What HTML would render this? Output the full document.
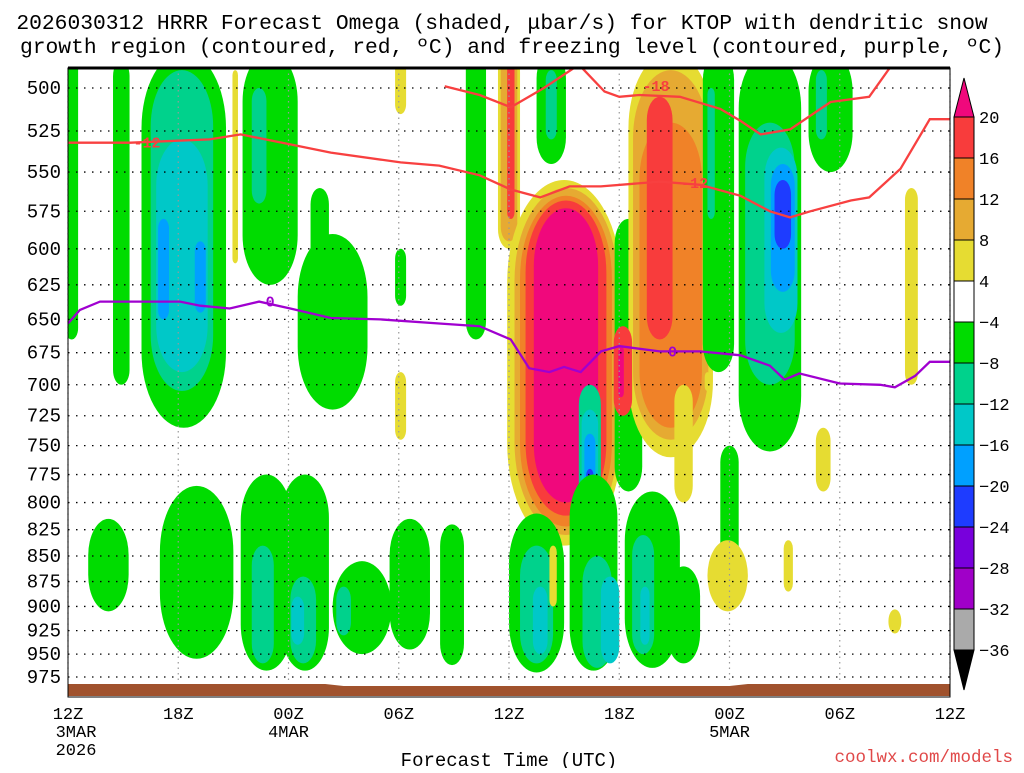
<!DOCTYPE html>
<html><head><meta charset="utf-8"><style>
body{margin:0;background:#fff;width:1024px;height:768px;overflow:hidden}
svg text{font-family:"Liberation Mono",monospace}
</style></head><body>
<svg id="chart" width="1024" height="768" xmlns="http://www.w3.org/2000/svg">
<text x="502" y="29" font-size="21.3" text-anchor="middle">2026030312 HRRR Forecast Omega (shaded, μbar/s) for KTOP with dendritic snow</text>
<text x="512" y="53" font-size="21.3" text-anchor="middle">growth region (contoured, red, ºC) and freezing level (contoured, purple, ºC)</text>
<g id="shading"></g>
<g id="grid"></g>
<g id="contours"></g>
<g id="axes"></g>
<g id="cbar"></g>
<text x="509" y="766" font-size="19" text-anchor="middle">Forecast Time (UTC)</text>
<text x="1013" y="762" font-size="17.5" fill="#e04848" text-anchor="end">coolwx.com/models</text>
</svg>
<script>
const pLevels=[500,525,550,575,600,625,650,675,700,725,750,775,800,825,850,875,900,925,950,975];
const xTicks=[0,6,12,18,24,30,36,42,48];
const xTickLabels=["12Z","18Z","00Z","06Z","12Z","18Z","00Z","06Z","12Z"];
const xDateLabels={0:["3MAR","2026"],12:["4MAR"],36:["5MAR"]};
const cbLevels=[20,16,12,8,4,-4,-8,-12,-16,-20,-24,-28,-32,-36];
const cbColors=["#f83c3c","#f08228","#e6aa32","#e6dc32","#ffffff","#00dc00","#00d28c","#00c8c8","#00a0ff","#1e3cff","#7800dc","#a000c8","#aaaaaa"];
// blobs: [t center (h), half width (h), p top, p bottom, omega]
const blobs=[
[0.2,0.35,480,665,-6],[2.9,0.45,485,700,-6],
[6.3,2.3,480,735,-6],[6.2,1.7,490,705,-10],[6.2,1.4,530,690,-14],[5.2,0.3,580,650,-18],[7.2,0.3,595,645,-18],
[9.1,0.15,490,610,6],
[11,1.5,480,625,-6],[10.4,0.4,500,570,-10],
[14.4,1.9,590,720,-6],[13.7,0.5,560,620,-6],[18.1,0.3,600,640,-6],[22.2,0.55,480,665,-6],
[18.1,0.3,480,515,6],[18.1,0.3,690,745,6],
[24,0.6,480,600,6],[24,0.45,480,595,10],
[27.0,3.1,555,840,6],[27.1,2.8,560,830,10],[27.1,2.5,565,822,14],[27.1,2.2,568,812,18],[27.1,1.75,573,800,22],
[24.1,0.2,480,580,18],
[26.3,0.8,480,545,-6],[26.3,0.3,490,530,-10],
[30.5,0.75,580,790,-6],
[28.4,0.6,700,840,-10],[28.4,0.45,720,838,-14],[28.4,0.3,740,835,-18],[28.4,0.2,770,835,-22],[28.4,0.12,790,830,-26],
[32.8,2.3,480,760,6],[32.8,2.05,490,745,10],[32.8,1.7,520,735,14],[32.2,0.7,505,665,18],[30.2,0.5,655,725,18],[30.1,0.15,670,710,22],
[33.5,0.5,700,800,6],
[35.4,0.85,480,690,-6],[35,0.2,500,580,-10],
[38.2,1.7,480,755,-6],[38.2,1.35,520,700,-10],[38.8,0.9,535,660,-14],[38.9,0.65,545,630,-18],[38.9,0.45,555,600,-22],
[41.5,1.2,480,550,-6],[41,0.3,490,530,-10],
[45.9,0.35,560,700,6],[41.1,0.4,735,790,6],[34.8,0.15,690,705,6],
[2.2,1.1,815,905,-6],[7,2,785,955,-6],
[10.8,1.4,775,968,-6],[10.6,0.6,840,960,-10],
[12.9,1.3,775,968,-6],[12.8,0.7,870,960,-10],[12.5,0.35,890,940,-14],
[16,1.6,855,950,-6],[15,0.4,880,930,-10],[18.6,1.1,815,945,-6],[20.9,0.65,820,962,-6],
[25.5,1.5,810,970,-6],[25.5,0.9,840,960,-10],[25.7,0.4,880,950,-14],
[28.6,1.3,775,968,-6],[28.8,0.8,850,965,-10],[29.5,0.5,870,960,-14],
[31.8,1.5,790,965,-6],[31.3,0.6,830,950,-10],[31.4,0.25,880,940,-14],
[33.5,0.9,860,960,-6],[36,0.5,750,895,-6],
[35.9,1.1,835,905,6],[39.2,0.25,835,885,6],[45,0.35,903,928,6],[26.4,0.2,840,900,6]
];
const red12T=[0,3.4,7.7,9.4,12.1,14.3,18.1,20.2,22.4,24.1,25.7,27.3,29,32.2,34.4,36.6,38.2,39.3,40.4,42.6,43.6,45.3,46.9,48];
const red12P=[532,532,530,527,533,538,544,546,552,561,566,559,559,556,558,565,575,579,575,568,566,548,518,518];
const red18aT=[20.5,22.4,24.1,25.9,27.5];
const red18aP=[499,504,511,500,489];
const red18bT=[28,29.2,30,31.1,33.3,35.5,36.6,37.7,39.3,41.5,43.6,44.7];
const red18bP=[489,502,505,504,505,512,519,527,524,508,505,489];
const zeroT=[0,0.65,1.74,6.1,7.2,8.8,10.4,12.1,14.3,17,20.2,22.4,24.1,25.1,26.2,27,27.9,29,30,32.2,34.4,36.6,38.2,39,39.8,42,44.2,45,46.1,46.9,48];
const zeroP=[653,643,637,637,640,642,637,642,649,650,653,655,665,687,690,686,690,674,670,674,674,677,685,696,691,699,700,702,693,682,682];

const X0=68,X1=950,Y500=88,K=882;
const xs=t=>X0+(X1-X0)*t/48;
const ys=p=>Y500+K*Math.log(p/500);
const NS="http://www.w3.org/2000/svg";
function mk(tag,attrs,parent){const e=document.createElementNS(NS,tag);for(const k in attrs)e.setAttribute(k,attrs[k]);parent.appendChild(e);return e;}
function color(v){
 if(v>=20)return "#f0087c";if(v<=-36)return "#000";
 for(let i=0;i<cbLevels.length-1;i++){if(v<=cbLevels[i]&&v>cbLevels[i+1])return cbColors[i];}
 return "#fff";}
const clip=mk("clipPath",{id:"pc"},mk("defs",{},document.getElementById("chart")));
mk("rect",{x:X0,y:68,width:X1-X0,height:630},clip);
const sh=document.getElementById("shading");sh.setAttribute("clip-path","url(#pc)");
blobs.forEach(b=>{
 const x=xs(b[0]-b[1]),w=xs(b[0]+b[1])-x,y=ys(b[2]),h=ys(b[3])-y;
 const r=mk("rect",{x:x,y:y,width:w,height:h,rx:w/2,ry:Math.min(h/2,w*0.9),fill:color(b[4])},sh);
 
 
});
const g=document.getElementById("grid");
pLevels.forEach(p=>{const l=mk("line",{x1:X0,x2:X1,y1:ys(p),y2:ys(p),stroke:"#000","stroke-width":1.3,"stroke-dasharray":"1.5 6.5"},g);
 });
xTicks.forEach(t=>{const l=mk("line",{x1:xs(t),x2:xs(t),y1:68,y2:684,stroke:"#999","stroke-width":1.2,"stroke-dasharray":"1.5 4"},g);
 });
const gr=mk("path",{d:`M${X0} 684 L${xs(14)} 684 L${xs(15)} 686 L${xs(36)} 686 L${xs(37)} 684 L${X1} 684 L${X1} 696 L${X0} 696Z`,fill:"#a0522d"},g);

const c=document.getElementById("contours");c.setAttribute("clip-path","url(#pc)");
function line(T,P,col,name){const d=T.map((t,i)=>(i?"L":"M")+xs(t).toFixed(1)+" "+ys(P[i]).toFixed(1)).join("");
 const e=mk("path",{d:d,fill:"none",stroke:col,"stroke-width":2.3},c);}
line(red12T,red12P,"#f84040","contour-minus12");
line(red18aT,red18aP,"#f84040","contour-minus18-a");
line(red18bT,red18bP,"#f84040","contour-minus18-b");
line(zeroT,zeroP,"#a000d0","freezing-level-0c");
const labs=[[4.3,532,"-12","#f84040"],[32.0,499,"-18","#f84040"],[34.1,557,"-12","#f84040"],[11,637,"0","#a000d0"],[32.9,674,"0","#a000d0"]];
labs.forEach(a=>{
 const t=mk("text",{x:xs(a[0]),y:ys(a[1])+5,"font-size":15,"font-weight":"bold",fill:a[3],"text-anchor":"middle"},c);t.textContent=a[2];
 });
const ax=document.getElementById("axes");
mk("rect",{x:X0,y:68,width:X1-X0,height:629,fill:"none",stroke:"#000","stroke-width":1},ax);
mk("line",{x1:X0,x2:X1,y1:68,y2:68,stroke:"#000","stroke-width":3},ax);
pLevels.forEach(p=>{const t=mk("text",{x:61,y:ys(p)+6,"font-size":19,"text-anchor":"end"},ax);t.textContent=p;
 });
xTicks.forEach((tt,i)=>{const t=mk("text",{x:xs(tt),y:719,"font-size":17,"text-anchor":"middle"},ax);t.textContent=xTickLabels[i];
 
 (xDateLabels[tt]||[]).forEach((s,j)=>{const d=mk("text",{x:xs(tt)+(tt===0?8:0),y:737+j*18,"font-size":17,"text-anchor":"middle"},ax);d.textContent=s;
  });});
const cb=document.getElementById("cbar");
const CX=954,CW=20,CY0=117,CS=(650-117)/13;
const up=mk("path",{d:`M${CX} ${CY0} L${CX+CW/2} 78 L${CX+CW} ${CY0}Z`,fill:"#f0087c",stroke:"#000"},cb);

cbColors.forEach((col,i)=>{const r=mk("rect",{x:CX,y:CY0+i*CS,width:CW,height:CS,fill:col,stroke:"#000","stroke-width":1},cb);
 });
const dn=mk("path",{d:`M${CX} 650 L${CX+CW/2} 690 L${CX+CW} 650Z`,fill:"#000",stroke:"#000"},cb);

cbLevels.forEach((v,i)=>{const t=mk("text",{x:979,y:CY0+i*CS+6,"font-size":17},cb);t.textContent=v<0?"−"+(-v):v;
 });
</script>
</body></html>
